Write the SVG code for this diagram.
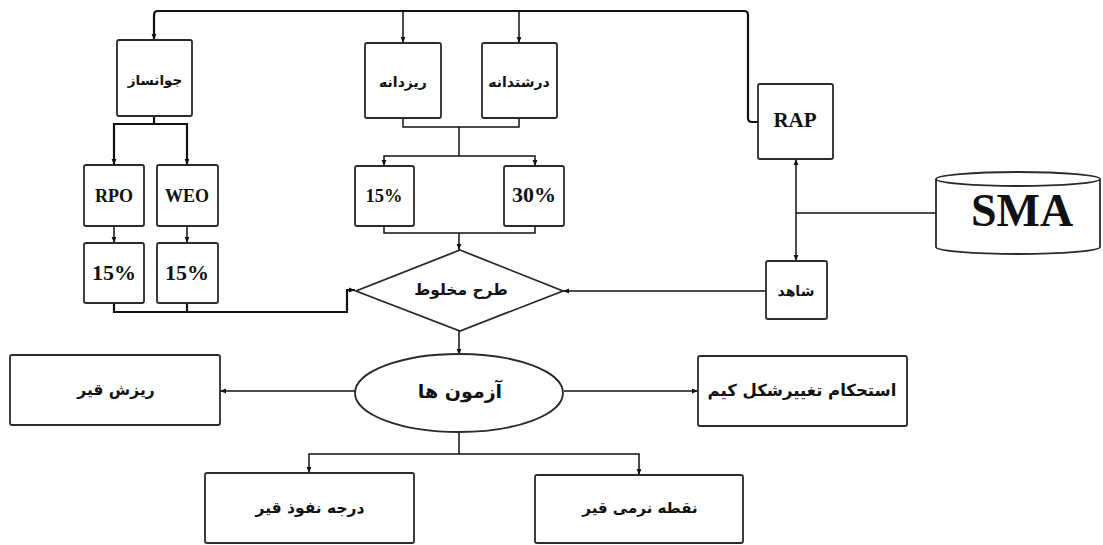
<svg xmlns="http://www.w3.org/2000/svg" width="1103" height="545" viewBox="0 0 1103 545">
<defs>
<marker id="ah" viewBox="0 0 10 10" refX="10" refY="5" markerWidth="6" markerHeight="6" markerUnits="userSpaceOnUse" orient="auto-start-reverse">
<path d="M0,1 L10,5 L0,9 z" fill="#111"/>
</marker>
<style>
.box{fill:#fff;stroke:#2a2a2a;stroke-width:1.8}
.c{fill:none;stroke:#111;stroke-width:1.5}
.ct{fill:none;stroke:#111;stroke-width:2.2}
.fa{font-family:"DejaVu Sans","Noto Sans",sans-serif;font-weight:bold;fill:#111;text-anchor:middle;dominant-baseline:central}
.en{font-family:"Liberation Serif","Times New Roman",serif;font-weight:bold;fill:#111;text-anchor:middle}
</style>
</defs>
<rect width="1103" height="545" fill="#fff"/>

<g id="connectors">
<path class="ct" d="M758,122 H752 Q748,122 748,118 V15 Q748,11 744,11 H158 Q154,11 154,15 V40" marker-end="url(#ah)"/>
<path class="c" d="M403,11 V43" marker-end="url(#ah)"/>
<path class="c" d="M519,11 V43" marker-end="url(#ah)"/>
<path class="ct" d="M154,116 V124"/>
<path class="ct" d="M114,165 V124 H187 V165" marker-start="url(#ah)" marker-end="url(#ah)"/>
<path class="c" d="M114,226 V243" marker-end="url(#ah)"/>
<path class="c" d="M187,226 V243" marker-end="url(#ah)"/>
<path class="ct" d="M114,303 V312 H347 V290 H355" marker-end="url(#ah)"/>
<path class="ct" d="M187,303 V312"/>
<path class="c" d="M403,118 V127 H519 V118"/>
<path class="c" d="M459,127 V156"/>
<path class="c" d="M384,166 V156 H535 V166" marker-start="url(#ah)" marker-end="url(#ah)"/>
<path class="c" d="M384,226 V233 H535 V226"/>
<path class="c" d="M459,233 V250" marker-end="url(#ah)"/>
<path class="c" d="M766,291 H563" marker-end="url(#ah)"/>
<path class="c" d="M796,159 V261" marker-start="url(#ah)" marker-end="url(#ah)"/>
<path class="c" d="M796,213 H936"/>
<path class="c" d="M459,331 V355" marker-end="url(#ah)"/>
<path class="c" d="M355,391 H220" marker-end="url(#ah)"/>
<path class="c" d="M564,391 H698" marker-end="url(#ah)"/>
<path class="c" d="M459,433 V454"/>
<path class="c" d="M309,473 V454 H639 V475" marker-start="url(#ah)" marker-end="url(#ah)"/>
</g>

<g id="n-javansaz"><rect class="box" x="117" y="40" width="75" height="76" rx="2"/><text class="fa" x="155" y="80" font-size="13.5">جوانساز</text></g>
<g id="n-rizdane"><rect class="box" x="365" y="43" width="76" height="75" rx="2"/><text class="fa" x="403" y="82" font-size="14">ریزدانه</text></g>
<g id="n-dorosht"><rect class="box" x="482" y="43" width="75" height="75" rx="2"/><text class="fa" x="519" y="82" font-size="14">درشتدانه</text></g>
<g id="n-rap"><rect class="box" x="758" y="84" width="75" height="75" rx="2"/><text class="en" x="795" y="127" font-size="21">RAP</text></g>
<g id="n-rpo"><rect class="box" x="84" y="165" width="60" height="61" rx="2"/><text class="en" x="114" y="202" font-size="18">RPO</text></g>
<g id="n-weo"><rect class="box" x="157" y="165" width="61" height="61" rx="2"/><text class="en" x="187" y="202" font-size="18">WEO</text></g>
<g id="n-p15a"><rect class="box" x="84" y="243" width="60" height="60" rx="2"/><text class="en" x="114" y="280" font-size="22">15%</text></g>
<g id="n-p15b"><rect class="box" x="157" y="243" width="61" height="60" rx="2"/><text class="en" x="187" y="280" font-size="22">15%</text></g>
<g id="n-p15c"><rect class="box" x="355" y="166" width="59" height="60" rx="2"/><text class="en" x="384" y="202" font-size="18.5">15%</text></g>
<g id="n-p30"><rect class="box" x="504" y="166" width="60" height="60" rx="2"/><text class="en" x="534" y="202" font-size="22">30%</text></g>
<g id="n-sma">
<path class="box" d="M936,179 V247 A82,7 0 0 0 1100,247 V179"/>
<ellipse class="box" cx="1018" cy="179" rx="82" ry="7"/>
<text class="en" x="1022" y="226" font-size="46">SMA</text>
</g>
<g id="n-shahed"><rect class="box" x="766" y="261" width="61" height="58" rx="2"/><text class="fa" x="796" y="291" font-size="14">شاهد</text></g>
<g id="n-tarh"><path class="box" d="M460,250 L563,291 L460,331 L356,291 Z"/><text class="fa" x="461" y="290" font-size="15.5">طرح مخلوط</text></g>
<g id="n-azmoon"><ellipse class="box" cx="459" cy="393" rx="104" ry="39"/><text class="fa" x="460" y="391" font-size="19">آزمون ها</text></g>
<g id="n-rizesh"><rect class="box" x="10" y="355" width="210" height="70" rx="2"/><text class="fa" x="116" y="390" font-size="15.5">ریزش قیر</text></g>
<g id="n-estehkam"><rect class="box" x="698" y="356" width="209" height="70" rx="2"/><text class="fa" x="802" y="390" font-size="16.5">استحکام تغییرشکل کیم</text></g>
<g id="n-daraje"><rect class="box" x="205" y="473" width="209" height="70" rx="2"/><text class="fa" x="310" y="508" font-size="15.5">درجه نفوذ قیر</text></g>
<g id="n-noghte"><rect class="box" x="535" y="475" width="208" height="68" rx="2"/><text class="fa" x="640" y="508" font-size="15">نقطه نرمی قیر</text></g>
</svg>
